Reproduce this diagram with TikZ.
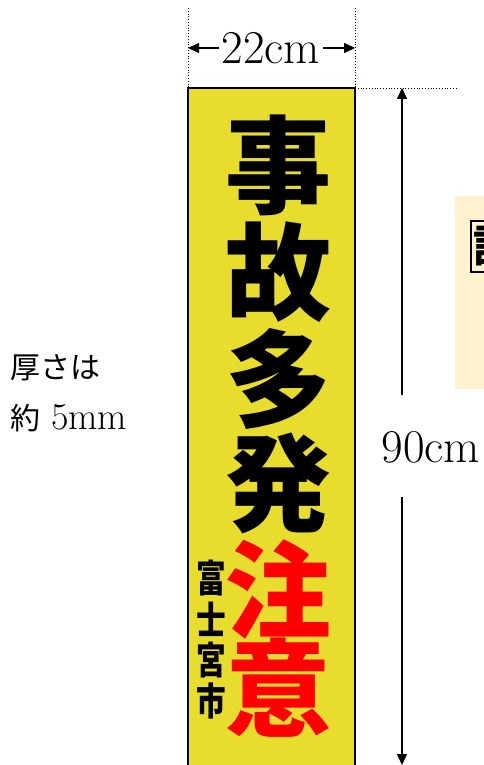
\documentclass[tikz,border=0pt]{standalone}
\usepackage{fontspec}
\usetikzlibrary{arrows.meta}
\newfontfamily\gothic{Noto Sans CJK JP}
\definecolor{signyellow}{RGB}{232,220,44}
\definecolor{paleyellow}{RGB}{255,242,206}
\begin{document}
\begin{tikzpicture}[x=1pt,y=-1pt,
  bigchar/.style={inner sep=0pt,font=\gothic\bfseries\fontsize{106}{106}\selectfont},
  citychar/.style={inner sep=0pt,font=\gothic\bfseries\fontsize{38}{38}\selectfont,xscale=0.78},
  dimtext/.style={inner sep=0pt,font=\fontsize{47}{47}\selectfont},
  dimarrow/.style={-{Triangle[length=11pt,width=10pt]},line width=1.4pt},
  guide/.style={dotted,line width=0.8pt}]
\useasboundingbox (0,0) rectangle (484,765);
% right partial panel
\fill[paleyellow] (455,196) rectangle (490,389);
\draw[line width=1.8pt] (471,221) rectangle (500,272);
\node[anchor=north west,inner sep=0pt,font=\gothic\bfseries\fontsize{44}{44}\selectfont] (sidechar) at (473,226) {設};
% sign
\filldraw[fill=signyellow,draw=black,line width=1.6pt] (188,88) rectangle (355,775);
\node[bigchar] (c1) at (278,165) {事};
\node[bigchar] (c2) at (278,272) {故};
\node[bigchar] (c3) at (278,379) {多};
\node[bigchar] (c4) at (278,483) {発};
\node[bigchar,text=red] (c5) at (278,590) {注};
\node[bigchar,text=red] (c6) at (278,688) {意};
\node[citychar] (f1) at (211,578) {富};
\node[citychar] (f2) at (211,619) {士};
\node[citychar] (f3) at (211,660) {宮};
\node[citychar] (f4) at (211,701) {市};
% guides
\coordinate (gl1) at (188,8);
\coordinate (gl2) at (188,88);
\coordinate (gr1) at (355,8);
\coordinate (gr2) at (355,88);
\coordinate (gh) at (458,88);
\draw[guide] (gl1) -- (gl2);
\draw[guide] (gr1) -- (gr2);
\draw[guide] (gr2) -- (gh);
% width dimension
\node[dimtext] (w) at (271,48) {22cm};
\coordinate (wl) at (188,48);
\coordinate (wr) at (355,48);
\draw[dimarrow] ([xshift=-3pt]w.west) -- (wl);
\draw[dimarrow] ([xshift=3pt]w.east) -- (wr);
% height dimension
\node[dimtext] (h) at (431,447) {90cm};
\coordinate (ht) at (402,88);
\coordinate (hb) at (402,765);
\coordinate (hm1) at (402,395);
\coordinate (hm2) at (402,497);
\draw[dimarrow] (hm1) -- (ht);
\draw[dimarrow] (hm2) -- (hb);
% thickness note
\node[anchor=west,inner sep=0pt,font=\gothic\fontsize{30}{30}\selectfont] (t1) at (10,368) {厚さは};
\node[anchor=west,inner sep=0pt] (t2) at (10,418) {{\gothic\fontsize{30}{30}\selectfont 約}\hspace{11pt}{\fontsize{38}{38}\selectfont 5mm}};
\end{tikzpicture}
\end{document}
